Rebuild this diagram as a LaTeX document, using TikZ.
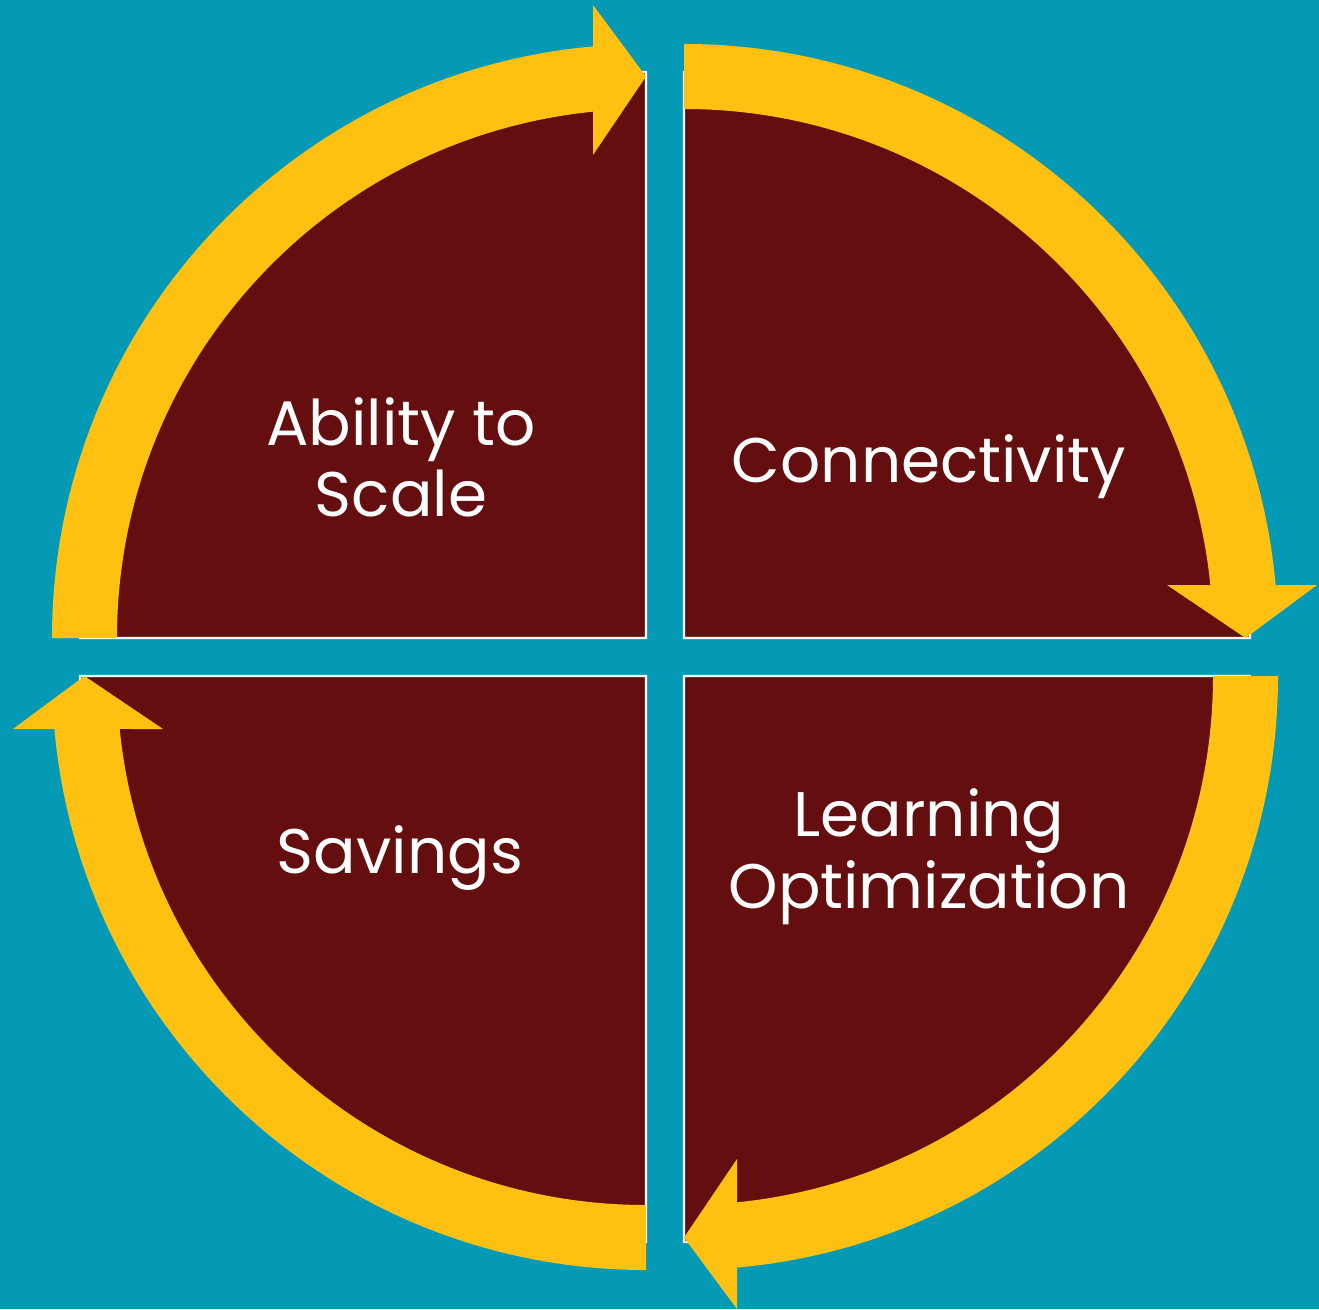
\documentclass[tikz,border=0pt]{standalone}
\usepackage{fontspec}
\setmainfont{Poppins}
\usepackage{tikz}
\usetikzlibrary{calc}
\definecolor{bgteal}{HTML}{049AB6}
\definecolor{quarterred}{HTML}{650E0F}
\definecolor{arrowgold}{HTML}{FEC111}

\begin{document}
\begin{tikzpicture}[x=0.01cm,y=0.01cm,
  quarter/.style={fill=quarterred,draw=white,line width=0.6pt},
  ringarrow/.style={fill=arrowgold},
  quadtext/.style={text=white,align=center,anchor=base,
    font=\fontsize{17.9}{20.3}\selectfont}]
\useasboundingbox[fill=bgteal] (-665,-652) rectangle (654,657);

% four quarters, then the arrow running round each one
\foreach \cx/\cy/\rot in {-19/19/0, 19/19/-90, 19/-19/-180, -19/-19/-270}{
  \begin{scope}[shift={(\cx,\cy)},rotate=\rot]
    \draw[quarter] (0,0) -- (180:566) arc[start angle=180,end angle=90,radius=566] -- cycle;
    \fill[ringarrow] (180:594) arc[start angle=180,end angle=95.12,radius=594]
      -- (-53,633) -- (0,561.5) -- (-53,483)
      -- (95.75:529) arc[start angle=95.75,end angle=180,radius=529] -- cycle;
  \end{scope}
}

% base of a two-line node is its last line
\node[quadtext] (scale) at (-264,140) {Ability to\\Scale};
\node[quadtext] (connect) at (264,175) {Connectivity};
\node[quadtext] (learn) at (264,-251) {Learning\\Optimization};
\node[quadtext] (save) at (-265,-216) {Savings};
\end{tikzpicture}
\end{document}
